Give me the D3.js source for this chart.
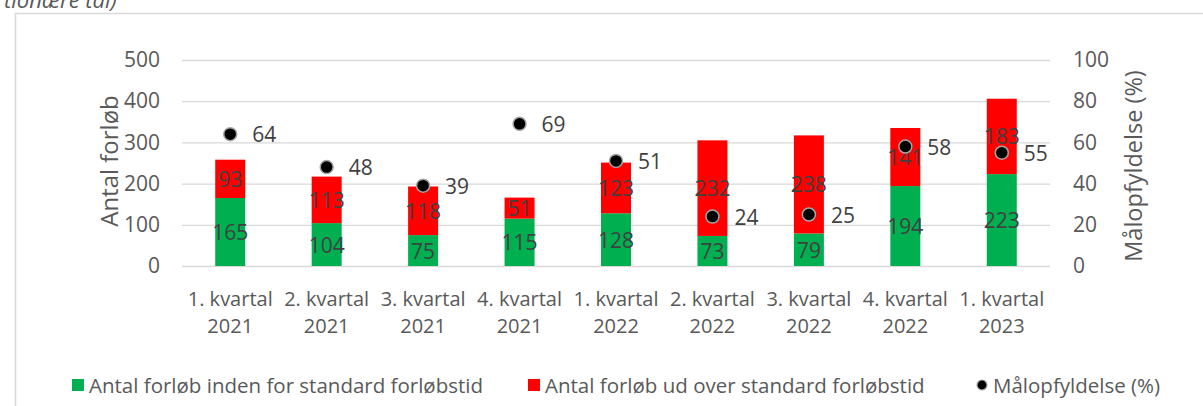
<!DOCTYPE html>
<html>
<head>
<meta charset="utf-8">
<script src="https://cdn.jsdelivr.net/npm/d3@7"></script>
<style>
  body { margin: 0; background: #fff; }
  text { font-family: "Open Sans", "Noto Sans", sans-serif; }
</style>
</head>
<body>
<script>
// data
var quarters = ["1. kvartal|2021", "2. kvartal|2021", "3. kvartal|2021", "4. kvartal|2021",
                "1. kvartal|2022", "2. kvartal|2022", "3. kvartal|2022", "4. kvartal|2022",
                "1. kvartal|2023"];
var inden = [165, 104, 75, 115, 128, 73, 79, 194, 223];
var udover = [93, 113, 118, 51, 123, 232, 238, 141, 183];
var maal = [64, 48, 39, 69, 51, 24, 25, 58, 55];
var leftTicks = [0, 100, 200, 300, 400, 500];
var rightTicks = [0, 20, 40, 60, 80, 100];

var W = 1203, H = 406;
var green = "#00b050", red = "#ff0000", txt = "#595959", lbl = "#404040";

var svg = d3.select("body").append("svg").attr("width", W).attr("height", H);

// chart frame (cut off at top and right)
svg.append("path").attr("d", "M15.5,406 V13.5 H1203")
    .attr("fill", "none").attr("stroke", "#d9d9d9").attr("stroke-width", 1.5);

// partial title at top
svg.append("text").attr("x", 4).attr("y", 8).attr("font-size", 22)
    .attr("font-style", "italic").attr("fill", txt).text("tionære tal)");

var x = d3.scaleBand().domain(quarters).range([182, 1050]);
var y = d3.scaleLinear().domain([0, 500]).range([266, 60]);
var y2 = d3.scaleLinear().domain([0, 100]).range([266, 60]);

// gridlines
svg.append("g").selectAll("line").data(leftTicks).enter().append("line")
    .attr("x1", 182).attr("x2", 1050)
    .attr("y1", function (d) { return y(d) + 0.5; })
    .attr("y2", function (d) { return y(d) + 0.5; })
    .attr("stroke", "#d9d9d9").attr("stroke-width", 1.3);

// left axis
var la = svg.append("g").attr("transform", "translate(160,0)")
    .call(d3.axisLeft(y).tickValues(leftTicks).tickSize(0).tickPadding(0));
la.select(".domain").remove();
la.selectAll("text").attr("font-size", 21).attr("fill", txt)
    .attr("font-family", "Open Sans");

// right axis
var ra = svg.append("g").attr("transform", "translate(1073,0)")
    .call(d3.axisRight(y2).tickValues(rightTicks).tickSize(0).tickPadding(0));
ra.select(".domain").remove();
ra.selectAll("text").attr("font-size", 21).attr("fill", txt)
    .attr("font-family", "Open Sans");

// axis titles
svg.append("text").attr("transform", "translate(108,161) rotate(-90)")
    .attr("text-anchor", "middle").attr("dominant-baseline", "central")
    .attr("font-size", 24).attr("fill", txt).text("Antal forløb");
svg.append("text").attr("transform", "translate(1133,166) rotate(-90)")
    .attr("text-anchor", "middle").attr("dominant-baseline", "central")
    .attr("font-size", 23.5).attr("fill", txt).text("Målopfyldelse (%)");

// bars
var bw = 30;
var cx = function (i) { return x(quarters[i]) + x.bandwidth() / 2; };
var bars = svg.append("g");
inden.forEach(function (v, i) {
    bars.append("rect").attr("x", cx(i) - bw / 2).attr("width", bw)
        .attr("y", y(v)).attr("height", y(0) - y(v)).attr("fill", green);
    bars.append("rect").attr("x", cx(i) - bw / 2).attr("width", bw)
        .attr("y", y(v + udover[i])).attr("height", y(v) - y(v + udover[i])).attr("fill", red);
});

// segment labels
var labs = svg.append("g").attr("font-size", 21).attr("fill", lbl)
    .attr("text-anchor", "middle").attr("dominant-baseline", "central");
inden.forEach(function (v, i) {
    labs.append("text").attr("x", cx(i)).attr("y", y(v / 2)).text(v);
    labs.append("text").attr("x", cx(i)).attr("y", y(v + udover[i] / 2)).text(udover[i]);
});

// målopfyldelse points
var pts = svg.append("g");
maal.forEach(function (v, i) {
    pts.append("circle").attr("cx", cx(i)).attr("cy", y2(v)).attr("r", 6.5)
        .attr("fill", "#000").attr("stroke", "#a6a6a6").attr("stroke-width", 1.5);
    pts.append("text").attr("x", cx(i) + 22).attr("y", y2(v))
        .attr("dominant-baseline", "central").attr("font-size", 21).attr("fill", lbl).text(v);
});

// x labels, two lines
var xl = svg.append("g").attr("font-size", 20).attr("fill", txt).attr("text-anchor", "middle");
quarters.forEach(function (q, i) {
    var parts = q.split("|");
    xl.append("text").attr("x", cx(i)).attr("y", 306).text(parts[0]);
    xl.append("text").attr("x", cx(i)).attr("y", 333).text(parts[1]);
});

// legend
var legend = [
    {label: "Antal forløb inden for standard forløbstid", color: green, x: 72, type: "rect"},
    {label: "Antal forløb ud over standard forløbstid", color: red, x: 528, type: "rect"},
    {label: "Målopfyldelse (%)", color: "#000", x: 976, type: "dot"}
];
var lg = svg.append("g");
legend.forEach(function (d) {
    if (d.type == "rect") {
        lg.append("rect").attr("x", d.x).attr("y", 379).attr("width", 12).attr("height", 12).attr("fill", d.color);
    } else {
        lg.append("circle").attr("cx", d.x + 6).attr("cy", 385).attr("r", 5)
            .attr("fill", "#000").attr("stroke", "#a6a6a6").attr("stroke-width", 1.2);
    }
    lg.append("text").attr("x", d.x + 17).attr("y", 385).attr("dominant-baseline", "central")
        .attr("font-size", 20.5).attr("fill", txt).text(d.label);
});
</script>
</body>
</html>
